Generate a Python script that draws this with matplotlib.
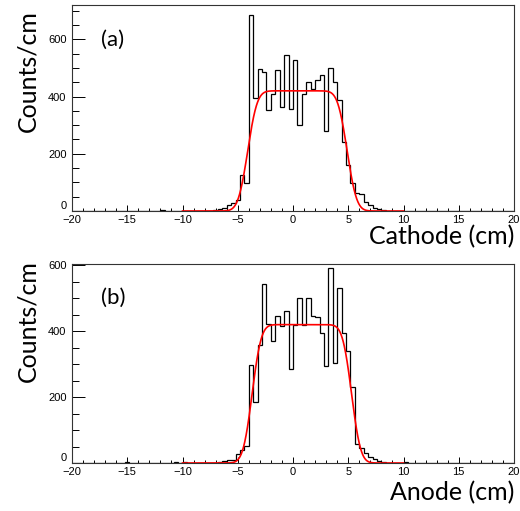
#!/usr/bin/env python3

import numpy as np
from math import erf
import matplotlib
matplotlib.use('Agg')
import matplotlib.pyplot as plt
from matplotlib.ticker import MultipleLocator, FuncFormatter

# Histogram binning: 100 bins of 0.4 cm over [-20, 20]
x_min, x_max, n_bins = -20.0, 20.0, 100

# Cathode counts/cm, bins starting at -7.2 cm
cathode_start = -7.2
cathode_counts = [3, 8, 12, 20, 27, 38, 126, 99, 686, 395,
                  498, 486, 352, 410, 492, 365, 544, 355, 527, 300,
                  408, 450, 428, 457, 477, 280, 500, 452, 388, 240,
                  160, 98, 64, 59, 33, 21, 12, 7, 3, 1]
cathode_extra = {-12.0: 5}

# Anode counts/cm, bins starting at -6.8 cm
anode_start = -6.8
anode_counts = [3, 5, 9, 10, 26, 39, 51, 297, 184, 358,
                543, 422, 369, 447, 416, 460, 286, 418, 501, 420,
                502, 445, 444, 396, 295, 591, 305, 532, 396, 340,
                230, 58, 46, 29, 19, 12, 5, 2]
anode_extra = {-15.2: 3, -10.8: 2, -10.0: 2, 10.0: 2, 13.2: 1}

# Fit parameters: plateau, left edge, right edge, edge sigma (cm)
cathode_fit = (420, -4.1, 4.9, 0.68)
anode_fit = (420, -3.7, 5.3, 0.65)


def full_hist(start, counts, extra):
    h = np.zeros(n_bins)
    width = (x_max - x_min) / n_bins
    i0 = int(round((start - x_min) / width))
    h[i0:i0 + len(counts)] = counts
    for x, v in extra.items():
        h[int(round((x - x_min) / width))] = v
    return h


def fit_curve(x, params):
    a, lo, hi, s = params
    return np.array([a / 2 * (erf((xi - lo) / (np.sqrt(2) * s)) - erf((xi - hi) / (np.sqrt(2) * s))) for xi in x])


def draw_panel(ax, hist, params, ymax, tag, xlabel, ylabel_y, xlabel_y):
    edges = np.linspace(x_min, x_max, n_bins + 1)
    ax.stairs(hist, edges, color='black', linewidth=0.9)
    xf = np.linspace(-10, 10, 800)
    ax.plot(xf, fit_curve(xf, params), color='red', linewidth=1.2)

    ax.set_xlim(x_min, x_max)
    ax.set_ylim(0, ymax)
    ax.xaxis.set_major_locator(MultipleLocator(5))
    ax.xaxis.set_minor_locator(MultipleLocator(1))
    ax.yaxis.set_major_locator(MultipleLocator(200))
    ax.yaxis.set_minor_locator(MultipleLocator(50))
    # the "0" of the y axis is drawn separately, raised like ROOT does
    ax.yaxis.set_major_formatter(FuncFormatter(lambda v, p: '' if v == 0 else f'{v:.0f}'))
    ax.tick_params(axis='both', which='both', direction='in', top=False, right=False,
                   labelsize=8, width=0.7)
    ax.tick_params(axis='x', which='major', length=4.3, pad=3)
    ax.tick_params(axis='x', which='minor', length=2.2)
    ax.tick_params(axis='y', which='major', length=9.4, pad=4)
    ax.tick_params(axis='y', which='minor', length=4.7)
    for lab in ax.get_xticklabels() + ax.get_yticklabels():
        lab.set_family('Liberation Sans')
    ax.text(-0.013, 0, '0', transform=ax.get_yaxis_transform(), fontsize=8,
            family='Liberation Sans', ha='right', va='bottom')
    for sp in ax.spines.values():
        sp.set_linewidth(0.8)
        sp.set_color('#333333')

    ax.text(0.065, 0.83, tag, transform=ax.transAxes, fontsize=16,
            family='Lato', va='center', ha='left')

    fig = ax.figure
    fig.text(28 / 520, 1 - ylabel_y / 511, 'Counts/cm', rotation=90, fontsize=18,
             family='Lato', ha='center', va='center')
    fig.text(514 / 520, 1 - xlabel_y / 511, xlabel, fontsize=18,
             family='Lato', ha='right', va='center')


fig = plt.figure(figsize=(5.2, 5.11), dpi=100)
ax_top = fig.add_axes([72 / 520, 1 - 211 / 511, 442 / 520, 206 / 511])
ax_bot = fig.add_axes([72 / 520, 1 - 463 / 511, 442 / 520, 199 / 511])

draw_panel(ax_top, full_hist(cathode_start, cathode_counts, cathode_extra),
           cathode_fit, 720, '(a)', 'Cathode (cm)', 71, 237)
draw_panel(ax_bot, full_hist(anode_start, anode_counts, anode_extra),
           anode_fit, 604, '(b)', 'Anode (cm)', 321, 493)

fig.savefig('out.png', dpi=100)
